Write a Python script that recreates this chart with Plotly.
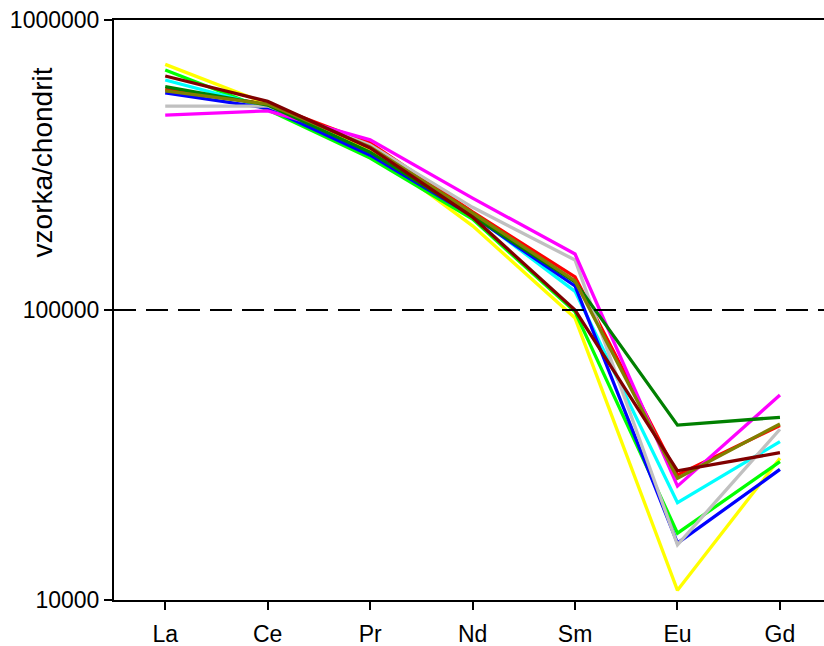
import plotly.graph_objects as go

elements = ["La", "Ce", "Pr", "Nd", "Sm", "Eu", "Gd"]

yellow_s = [703000, 513000, 356000, 195000, 93800, 10800, 30800]
lime_s = [672000, 490000, 334000, 206000, 98500, 17000, 30000]
cyan_s = [621000, 501000, 345000, 214000, 116000, 21650, 35150]
blue_s = [561000, 497000, 342000, 211000, 121000, 15700, 28200]
gray_s = [505000, 505000, 371000, 226000, 148700, 15500, 38800]
magenta_s = [470000, 486000, 386000, 243000, 156000, 24700, 50900]
red_s = [578000, 513000, 377000, 218000, 130000, 27000, 40000]
darkgreen_s = [589000, 509000, 350000, 211000, 125000, 40100, 42650]
olive_s = [570000, 513000, 365000, 216000, 126000, 26300, 40450]
maroon_s = [641000, 524000, 362000, 209000, 100000, 27900, 32200]

series = [
    ("red", red_s, "#FF0000"),
    ("yellow", yellow_s, "#FFFF00"),
    ("lime", lime_s, "#00FF00"),
    ("cyan", cyan_s, "#00FFFF"),
    ("blue", blue_s, "#0000FF"),
    ("gray", gray_s, "#C0C0C0"),
    ("magenta", magenta_s, "#FF00FF"),
    ("darkgreen", darkgreen_s, "#008000"),
    ("olive", olive_s, "#808000"),
    ("maroon", maroon_s, "#800000"),
]

ref_value = [100000, 100000]
y_tickvals = [10000, 100000, 1000000]
y_ticktext = ["10000", "100000", "1000000"]

fig = go.Figure()

# reference dashed line at 100000 across full plot width
fig.add_trace(go.Scatter(x=[0, 1], y=ref_value, xaxis="x2", yaxis="y", mode="lines",
                         line=dict(color="black", width=2, dash="22px,10px"),
                         showlegend=False, hoverinfo="skip"))

for name, vals, col in series:
    fig.add_trace(go.Scatter(x=elements, y=vals, mode="lines", name=name,
                             line=dict(color=col, width=3.3), showlegend=False))

font_family = "Arial, Liberation Sans, sans-serif"

fig.update_layout(
    width=824, height=646,
    margin=dict(l=114, r=0, t=20, b=46),
    paper_bgcolor="white", plot_bgcolor="white",
    font=dict(family=font_family, size=23, color="black"),
    xaxis=dict(type="category", range=[-0.5, 6.43], showgrid=False, zeroline=False,
               showline=True, linecolor="black", linewidth=2, mirror=True,
               ticks="outside", ticklen=8, tickwidth=2, tickcolor="black",
               ticklabelstandoff=4, tickfont=dict(size=23), automargin=False),
    xaxis2=dict(overlaying="x", range=[0, 1], visible=False),
    yaxis=dict(type="log", range=[4, 6], showgrid=False, zeroline=False,
               showline=True, linecolor="black", linewidth=2,
               ticks="outside", ticklen=8, tickwidth=2, tickcolor="black",
               tickvals=y_tickvals, ticktext=y_ticktext, tickfont=dict(size=23),
               automargin=False),
    annotations=[dict(text="vzorka/chondrit", textangle=-90, xref="paper", yref="paper",
                      x=-0.101, y=0.755, xanchor="center", yanchor="middle",
                      showarrow=False, font=dict(size=28, family=font_family))],
)

fig.write_html("out.html", config={"displayModeBar": False},
               post_script="document.body.style.margin='0px';document.body.style.overflow='hidden';")
